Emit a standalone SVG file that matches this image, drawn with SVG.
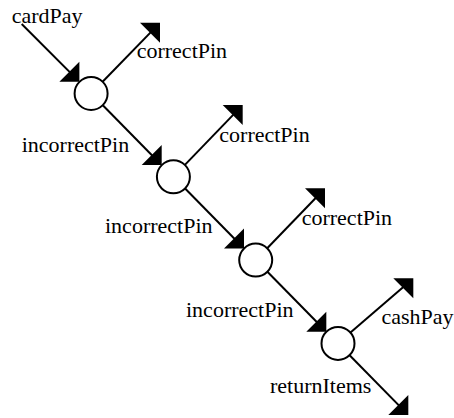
<svg xmlns="http://www.w3.org/2000/svg" width="454" height="418" viewBox="0 0 454 418">
<style>
.n{fill:#fff;stroke:#000;stroke-width:2}
.e{stroke:#000;stroke-width:2;fill:none}
.h{fill:#000;stroke:none}
</style>
<rect width="454" height="418" fill="#fff"/>
<g id="connectors">
<line class="e" x1="21.7" y1="24" x2="76.5" y2="78.9"/>
<polygon class="h" points="79.4,81.8 59.4,81.8 79.4,61.8"/>
<line class="e" x1="102.6" y1="81.7" x2="157.2" y2="25.6"/>
<polygon class="h" points="160,22.7 140,22.7 160,42.7"/>
<line class="e" x1="102.8" y1="105.2" x2="158.8" y2="162.2"/>
<polygon class="h" points="161.7,165.1 141.7,165.1 161.7,145.1"/>
<line class="e" x1="184.9" y1="164.9" x2="239.9" y2="107.9"/>
<polygon class="h" points="242.7,105 222.7,105 242.7,125"/>
<line class="e" x1="185.1" y1="188.5" x2="241.1" y2="245.5"/>
<polygon class="h" points="244,248.4 224,248.4 244,228.4"/>
<line class="e" x1="267.2" y1="248.2" x2="322.2" y2="191.2"/>
<polygon class="h" points="325,188.3 305,188.3 325,208.3"/>
<line class="e" x1="267.4" y1="271.8" x2="323.4" y2="328.8"/>
<polygon class="h" points="326.3,331.7 306.3,331.7 326.3,311.7"/>
<line class="e" x1="350.5" y1="332.6" x2="410.3" y2="280.9"/>
<polygon class="h" points="413.3,278.3 393.3,278.3 413.3,298.3"/>
<line class="e" x1="349.6" y1="355.2" x2="405.5" y2="412.1"/>
<polygon class="h" points="408.3,415 388.3,415 408.3,395"/>
</g>
<g id="n1"><circle class="n" cx="91.1" cy="93.5" r="16.5"/></g>
<g id="n2"><circle class="n" cx="173.4" cy="176.8" r="16.5"/></g>
<g id="n3"><circle class="n" cx="255.7" cy="260.1" r="16.5"/></g>
<g id="n4"><circle class="n" cx="338" cy="343.4" r="16.5"/></g>
<g id="labels">
<text x="11.7" y="22.7" font-family="Liberation Serif, serif" font-size="22">cardPay</text>
<text x="136.7" y="58.3" font-family="Liberation Serif, serif" font-size="22">correctPin</text>
<text x="21.7" y="152.3" font-family="Liberation Serif, serif" font-size="22">incorrectPin</text>
<text x="219.3" y="141.6" font-family="Liberation Serif, serif" font-size="22">correctPin</text>
<text x="105" y="233.3" font-family="Liberation Serif, serif" font-size="22">incorrectPin</text>
<text x="301.7" y="225" font-family="Liberation Serif, serif" font-size="22">correctPin</text>
<text x="186" y="316.7" font-family="Liberation Serif, serif" font-size="22">incorrectPin</text>
<text x="381.5" y="324" font-family="Liberation Serif, serif" font-size="22">cashPay</text>
<text x="270" y="393.3" font-family="Liberation Serif, serif" font-size="22">returnItems</text>
</g>
</svg>
